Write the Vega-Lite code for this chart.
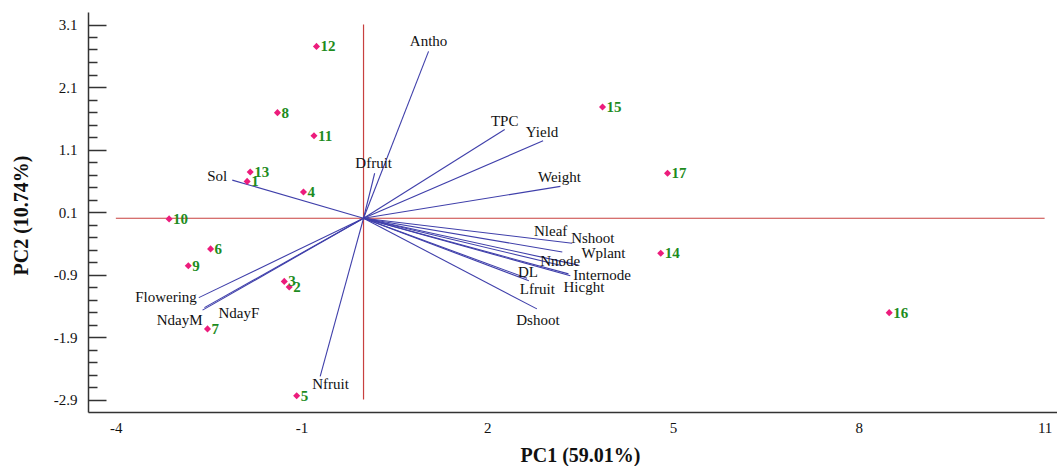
{
  "$schema": "https://vega.github.io/schema/vega-lite/v6.json",
  "width": 969,
  "height": 400,
  "autosize": {"type": "none"},
  "padding": {"left": 88, "top": 12, "right": 0, "bottom": 54},
  "background": "white",
  "config": {"view": {"stroke": null}, "font": "Liberation Serif", "axis": {"grid": false}},
  "datasets": {
    "refs": [
      {"x1": -4, "x2": 11, "y1": 0, "y2": 0},
      {"x1": 0, "x2": 0, "y1": -2.9, "y2": 3.1}
    ],
    "loadings": [
      {"name": "Antho", "PC1": 1.05, "PC2": 2.67},
      {"name": "Dfruit", "PC1": 0.18, "PC2": 0.72},
      {"name": "TPC", "PC1": 2.28, "PC2": 1.42},
      {"name": "Yield", "PC1": 2.90, "PC2": 1.24},
      {"name": "Weight", "PC1": 3.18, "PC2": 0.51},
      {"name": "Sol", "PC1": -2.12, "PC2": 0.61},
      {"name": "Flowering", "PC1": -2.66, "PC2": -1.27},
      {"name": "NdayM", "PC1": -2.60, "PC2": -1.47},
      {"name": "NdayF", "PC1": -2.57, "PC2": -1.43},
      {"name": "Nfruit", "PC1": -0.70, "PC2": -2.53},
      {"name": "Nleaf", "PC1": 3.21, "PC2": -0.54},
      {"name": "Nshoot", "PC1": 3.37, "PC2": -0.40},
      {"name": "Wplant", "PC1": 3.47, "PC2": -0.75},
      {"name": "Nnode", "PC1": 3.21, "PC2": -0.76},
      {"name": "DL", "PC1": 2.64, "PC2": -0.96},
      {"name": "Internode", "PC1": 3.34, "PC2": -0.92},
      {"name": "Lfruit", "PC1": 2.67, "PC2": -1.00},
      {"name": "Hicght", "PC1": 3.31, "PC2": -0.89},
      {"name": "Dshoot", "PC1": 2.80, "PC2": -1.45}
    ],
    "scores": [
      {"id": "1", "PC1": -1.88, "PC2": 0.59},
      {"id": "2", "PC1": -1.20, "PC2": -1.10},
      {"id": "3", "PC1": -1.28, "PC2": -1.01},
      {"id": "4", "PC1": -0.97, "PC2": 0.42},
      {"id": "5", "PC1": -1.08, "PC2": -2.84},
      {"id": "6", "PC1": -2.47, "PC2": -0.49},
      {"id": "7", "PC1": -2.52, "PC2": -1.77},
      {"id": "8", "PC1": -1.39, "PC2": 1.69},
      {"id": "9", "PC1": -2.83, "PC2": -0.76},
      {"id": "10", "PC1": -3.14, "PC2": -0.01},
      {"id": "11", "PC1": -0.80, "PC2": 1.32},
      {"id": "12", "PC1": -0.76, "PC2": 2.75},
      {"id": "13", "PC1": -1.83, "PC2": 0.74},
      {"id": "14", "PC1": 4.80, "PC2": -0.56},
      {"id": "15", "PC1": 3.86, "PC2": 1.78},
      {"id": "16", "PC1": 8.49, "PC2": -1.51},
      {"id": "17", "PC1": 4.91, "PC2": 0.72}
    ]
  },
  "layer": [
    {
      "data": {"name": "refs"},
      "mark": {"type": "rule", "color": "#C8403F", "strokeWidth": 1.2},
      "encoding": {
        "x": {
          "field": "x1", "type": "quantitative",
          "scale": {"domain": [-4.45, 11.2], "nice": false, "zero": false},
          "axis": {
            "values": [-4, -1, 2, 5, 8, 11],
            "ticks": false,
            "domainColor": "#333", "domainWidth": 1.5,
            "labelFontSize": 15, "labelColor": "#111", "labelPadding": 8,
            "labelFlush": false, "labelOverlap": false,
            "labelExpr": "datum.value < 0 ? '-' + format(-datum.value, 'd') : format(datum.value, 'd')",
            "title": "PC1 (59.01%)", "titleFontSize": 20, "titleFontWeight": "bold", "titleColor": "#111",
            "titleX": 492, "titleY": 49.5, "titleBaseline": "alphabetic", "titleAlign": "center"
          }
        },
        "x2": {"field": "x2"},
        "y": {
          "field": "y1", "type": "quantitative",
          "scale": {"domain": [-3.1, 3.3], "nice": false, "zero": false},
          "axis": {
            "orient": "left",
            "values": [-2.9, -1.9, -0.9, 0.1, 1.1, 2.1, 3.1],
            "ticks": false,
            "domainColor": "#333", "domainWidth": 1.5,
            "labelFontSize": 15, "labelColor": "#111", "labelPadding": 11,
            "labelFlush": false, "labelOverlap": false,
            "labelExpr": "datum.value < 0 ? '-' + format(-datum.value, '.1f') : format(datum.value, '.1f')",
            "title": "PC2 (10.74%)", "titleFontSize": 20, "titleFontWeight": "bold", "titleColor": "#111",
            "titleX": -61, "titleY": 203, "titleAngle": 270, "titleBaseline": "alphabetic", "titleAlign": "center"
          }
        },
        "y2": {"field": "y2"}
      }
    },
    {
      "data": {"name": "loadings"},
      "mark": {"type": "rule", "color": "#3F3FAA", "strokeWidth": 1.1},
      "encoding": {
        "x": {"field": "PC1", "type": "quantitative", "scale": {"domain": [-4.45, 11.2], "nice": false, "zero": false}},
        "x2": {"datum": 0},
        "y": {
          "field": "PC2", "type": "quantitative",
          "scale": {"domain": [-3.1, 3.3], "nice": false, "zero": false},
          "axis": {
            "orient": "left",
            "values": [-2.9, -2.7, -2.5, -2.3, -2.1, -1.9, -1.7, -1.5, -1.3, -1.1, -0.9, -0.7, -0.5, -0.3, -0.1, 0.1, 0.3, 0.5, 0.7, 0.9, 1.1, 1.3, 1.5, 1.7, 1.9, 2.1, 2.3, 2.5, 2.7, 2.9, 3.1],
            "labels": false, "domain": false, "title": null,
            "tickColor": "#333", "tickWidth": 1.5,
            "tickSize": {"condition": {"test": "indexof([-2.9, -1.9, -0.9, 0.1, 1.1, 2.1, 3.1], datum.value) >= 0", "value": -18}, "value": -9}
          }
        },
        "y2": {"datum": 0}
      }
    },
    {
      "data": {"name": "scores"},
      "mark": {"type": "point", "shape": "diamond", "filled": true, "size": 50, "color": "#EC1C7C", "opacity": 1},
      "encoding": {
        "x": {"field": "PC1", "type": "quantitative"},
        "y": {"field": "PC2", "type": "quantitative", "axis": null}
      }
    },
    {
      "data": {"name": "scores"},
      "mark": {"type": "text", "align": "left", "baseline": "alphabetic", "dx": 4, "dy": 5, "fontSize": 15, "fontWeight": "bold", "color": "#1E8C1E"},
      "encoding": {
        "x": {"field": "PC1", "type": "quantitative"},
        "y": {"field": "PC2", "type": "quantitative", "axis": null},
        "text": {"field": "id"}
      }
    },
    {
      "data": {"name": "loadings"},
      "mark": {
        "type": "text", "baseline": "alphabetic", "fontSize": 15, "color": "#111",
        "align": {"expr": "['center','center','center','center','center','right','right','right','left','left','right','left','left','left','left','left','left','left','center'][indexof(['Antho','Dfruit','TPC','Yield','Weight','Sol','Flowering','NdayM','NdayF','Nfruit','Nleaf','Nshoot','Wplant','Nnode','DL','Internode','Lfruit','Hicght','Dshoot'], datum.name)]"},
        "dx": {"expr": "[0,-1,0,-1,-1,-5,-2,0,14,-8,5,-1,3,-22,-9,3,-9,-5,1][indexof(['Antho','Dfruit','TPC','Yield','Weight','Sol','Flowering','NdayM','NdayF','Nfruit','Nleaf','Nshoot','Wplant','Nnode','DL','Internode','Lfruit','Hicght','Dshoot'], datum.name)]"},
        "dy": {"expr": "[-5,-5,-4,-4,-4,1,4,15,10,13,-16,0,-7,0,-1,4,13,18,16][indexof(['Antho','Dfruit','TPC','Yield','Weight','Sol','Flowering','NdayM','NdayF','Nfruit','Nleaf','Nshoot','Wplant','Nnode','DL','Internode','Lfruit','Hicght','Dshoot'], datum.name)]"}
      },
      "encoding": {
        "x": {"field": "PC1", "type": "quantitative"},
        "y": {"field": "PC2", "type": "quantitative", "axis": null},
        "text": {"field": "name"}
      }
    }
  ],
  "resolve": {"axis": {"y": "independent"}}
}
